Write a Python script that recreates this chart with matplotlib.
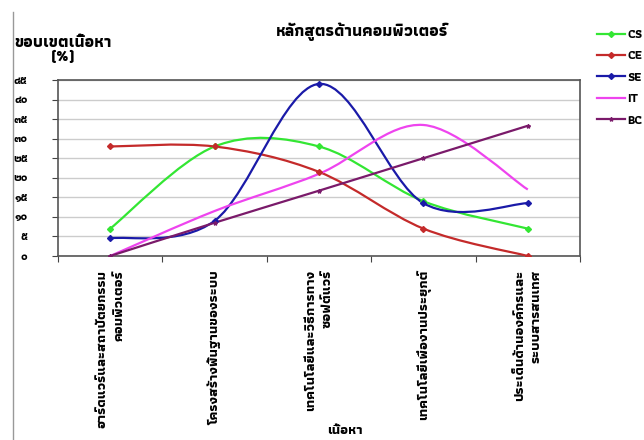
import matplotlib
matplotlib.use('Agg')
import matplotlib.pyplot as plt
import matplotlib.patheffects as pe
from matplotlib import font_manager
from matplotlib.ft2font import FT2Font
from matplotlib.path import Path
from matplotlib.patches import PathPatch
from matplotlib.lines import Line2D

categories = [
    'ฮาร์ดแวร์และสถาปัตยกรรม\nคอมพิวเตอร์',
    'โครงสร้างพื้นฐานของระบบ',
    'เทคโนโลยีและวิธีการทาง\nซอฟต์แวร์',
    'เทคโนโลยีเพื่องานประยุกต์',
    'ประเด็นด้านองค์กรและ\nระบบสารสนเทศ',
]
series_names = ['CS', 'CE', 'SE', 'IT', 'BC']
cs = [7, 28, 28, 14, 7]
ce = [28, 28, 21.5, 7, 0]
se = [4.5, 9, 44, 13.5, 13.5]
it = [0, 11.5, 21, 33.5, 17]
bc = [0, 8.5, 16.7, 25, 33.3]
y_ticks = [0, 5, 10, 15, 20, 25, 30, 35, 40, 45]
y_tick_labels = ['๐', '๕', '๑๐', '๑๕', '๒๐', '๒๕', '๓๐', '๓๕', '๔๐', '๔๕']

colors = ['#33e633', '#c42a2a', '#1a1aa8', '#ee44ee', '#7a1a6a']
markers = ['D', 'D', 'D', None, '*']


def find_thai_font():
    found = {}
    for f in font_manager.fontManager.ttflist:
        try:
            if 0x0E01 in FT2Font(f.fname).get_charmap():
                w = f.weight if isinstance(f.weight, int) else 400
                found.setdefault(f.name, []).append(w)
        except Exception:
            pass
    if not found:
        return 'DejaVu Sans', False
    bold = sorted(n for n, ws in found.items() if max(ws) >= 600)
    if bold:
        return bold[0], True
    return sorted(found)[0], False


def smooth_path(xs, ys):
    # excel-like smoothed line: catmull-rom segments as cubic beziers
    n = len(xs)
    verts = [(xs[0], ys[0])]
    codes = [Path.MOVETO]
    for i in range(n - 1):
        x0, y0 = (xs[i - 1], ys[i - 1]) if i > 0 else (xs[i], ys[i])
        x3, y3 = (xs[i + 2], ys[i + 2]) if i + 2 < n else (xs[i + 1], ys[i + 1])
        c1 = (xs[i] + (xs[i + 1] - x0) / 6, ys[i] + (ys[i + 1] - y0) / 6)
        c2 = (xs[i + 1] - (x3 - xs[i]) / 6, ys[i + 1] - (y3 - ys[i]) / 6)
        verts += [c1, c2, (xs[i + 1], ys[i + 1])]
        codes += [Path.CURVE4] * 3
    return Path(verts, codes)


thai, has_bold = find_thai_font()
plt.rcParams['font.family'] = [thai, 'DejaVu Sans']
# fake a heavier weight when the thai font has no bold face
heavy = [] if has_bold else [pe.withStroke(linewidth=0.9, foreground='black')]

fig = plt.figure(figsize=(6.44, 4.4), dpi=100)
ax = fig.add_axes([58 / 644, 1 - 256 / 440, (580 - 58) / 644, (256 - 80) / 440])

x = list(range(len(categories)))
handles = []
for name, vals, c, m in zip(series_names, [cs, ce, se, it, bc], colors, markers):
    ax.add_patch(PathPatch(smooth_path(x, vals), fill=False, edgecolor=c, lw=1.6, zorder=3))
    if m:
        ax.plot(x, vals, ls='none', marker=m, ms=3, color=c, zorder=4)
    handles.append(Line2D([], [], color=c, lw=1.6, marker=m, ms=3))

ax.set_xlim(-0.5, len(categories) - 0.5)
ax.set_ylim(0, 45)
ax.set_yticks(y_ticks)
ax.set_yticklabels(y_tick_labels, fontsize=8, fontweight='bold')
ax.set_xticks([i + 0.5 for i in range(-1, len(categories))])
ax.set_xticklabels([])
ax.set_xticks(x, minor=True)
ax.set_xticklabels(categories, minor=True, rotation=90, fontsize=10, linespacing=1.4,
                   fontweight='bold', va='top', ha='center', multialignment='right')
ax.tick_params(axis='x', which='minor', length=0, pad=10)
ax.tick_params(axis='x', which='major', length=4, color='#444444')
ax.tick_params(axis='y', length=4, color='#444444', pad=18)
for lab in ax.get_yticklabels() + ax.get_xticklabels(minor=True):
    lab.set_path_effects(heavy)
ax.grid(axis='y', color='#cccccc', lw=1)
ax.set_axisbelow(True)
for s in ax.spines.values():
    s.set_color('#555555')
    s.set_linewidth(1.2)

fig.text(362 / 644, 1 - 32 / 440, 'หลักสูตรด้านคอมพิวเตอร์', ha='center', va='center',
         fontsize=12, fontweight='bold', path_effects=heavy)
fig.text(63 / 644, 1 - 50 / 440, 'ขอบเขตเนื้อหา\n(%)', ha='center', va='center',
         multialignment='center', fontsize=12, fontweight='bold', linespacing=1.0,
         path_effects=heavy)
fig.text(345 / 644, 1 - 430 / 440, 'เนื้อหา', ha='center', va='center',
         fontsize=10, fontweight='bold', path_effects=heavy)
fig.add_artist(Line2D([13 / 644, 13 / 644], [0, 1 - 12 / 440], color='#999999', lw=1))

leg = fig.legend(handles, series_names, loc='upper left', bbox_to_anchor=(586 / 644, 1 - 18 / 440),
                 frameon=False, handlelength=2.2, handletextpad=0.2,
                 labelspacing=0.85, prop={'weight': 'bold', 'size': 9})
for t in leg.get_texts():
    t.set_path_effects(heavy)

fig.savefig('out.png', dpi=100)
